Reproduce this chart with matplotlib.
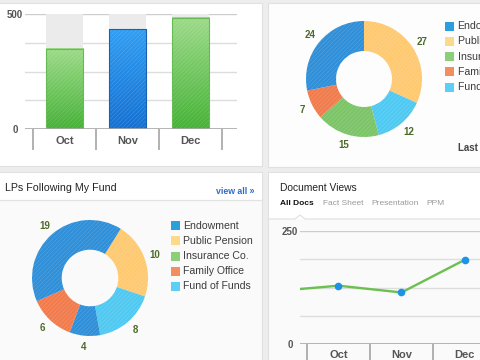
import numpy as np
import matplotlib.pyplot as plt
from matplotlib.patches import Rectangle
from matplotlib.colors import LinearSegmentedColormap

plt.rcParams['font.family'] = ['Liberation Sans', 'DejaVu Sans']
plt.rcParams['hatch.linewidth'] = 0.5

W, H = 480, 360

# ---- data ----
bar_months = ['Oct', 'Nov', 'Dec']
bar_values = [348, 433, 484]
bar_cap = 500
bar_ticks = [0, 125, 250, 375, 500]

lp_types = ['Endowment', 'Public Pension', 'Insurance Co.', 'Family Office', 'Fund of Funds']
legend_colors = ['#2a9fdb', '#fcd98b', '#8ccf7b', '#f38f5f', '#5dcff5']
slice_colors = {'Endowment': '#2f8fd8', 'Public Pension': '#fec970',
                'Insurance Co.': '#7cc468', 'Family Office': '#f27b4c',
                'Fund of Funds': '#4fc9f2'}

# top right donut, clockwise from 12 o'clock
top_slices = ['Public Pension', 'Fund of Funds', 'Insurance Co.', 'Family Office', 'Endowment']
top_values = [27, 12, 15, 7, 24]

# LPs following my fund, clockwise
lp_slices = ['Public Pension', 'Fund of Funds', 'Endowment', 'Family Office', 'Endowment']
lp_values = [10, 8, 4, 6, 19]

doc_months = ['Sep', 'Oct', 'Nov', 'Dec']
doc_views = [117, 129, 114, 186]
doc_ticks = [0, 62.5, 125, 187.5, 250]
doc_tabs = ['All Docs', 'Fact Sheet', 'Presentation', 'PPM']


def rect(x0, y0, x1, y1):
    return [x0 / W, 1 - y1 / H, (x1 - x0) / W, (y1 - y0) / H]


fig = plt.figure(figsize=(4.8, 3.6), dpi=100, facecolor='#ededed')

# background panels
bg = fig.add_axes([0, 0, 1, 1], zorder=-5)
bg.set_xlim(0, W)
bg.set_ylim(H, 0)
bg.axis('off')
for x0, y0, x1, y1, fc in [(-2, 3, 262, 166, '#ffffff'), (268, 3, 484, 167, '#fdfdfd'),
                           (-2, 172, 262, 364, '#fafafa'), (268, 172, 484, 364, '#fafafa')]:
    bg.add_patch(Rectangle((x0, y0), x1 - x0, y1 - y0, fc=fc, ec='#e0e0e0', lw=0.8))
# headers of the lower panels
bg.add_patch(Rectangle((-1, 172.5), 262.5, 27.5, fc='#ffffff', lw=0))
bg.add_patch(Rectangle((268.5, 172.5), 215, 46, fc='#ffffff', lw=0))
bg.plot([-2, 262], [200, 200], color='#e2e2e2', lw=0.9)
bg.plot([268, 295, 300, 305, 484], [219, 219, 215, 219, 219], color='#e2e2e2', lw=0.9)

# ---- monthly bars (top left) ----
axb = fig.add_axes(rect(25, 14, 237, 129))
axb.set_facecolor('none')
for s in axb.spines.values():
    s.set_visible(False)
xb = np.arange(len(bar_months))
bw = 0.59
for t in bar_ticks[1:]:
    axb.axhline(t, color='#cccccc' if t == bar_cap else '#dddddd', lw=1, zorder=0)
axb.bar(xb, [bar_cap] * len(xb), width=bw, color='#ebebeb', zorder=1)
grad = np.linspace(0, 1, 64).reshape(-1, 1)
green = LinearSegmentedColormap.from_list('g', ['#45b236', '#9cda88'])
blue = LinearSegmentedColormap.from_list('b', ['#1470d2', '#2f9ef3'])
edges = []
for i, v in enumerate(bar_values):
    cm = blue if bar_months[i] == 'Nov' else green
    edges.append('#1b5fb0' if bar_months[i] == 'Nov' else '#66bb55')
    axb.imshow(grad, extent=[i - bw / 2, i + bw / 2, 0, v], origin='lower',
               cmap=cm, aspect='auto', zorder=2)
axb.bar(xb, bar_values, width=bw, facecolor='none', edgecolor=(1, 1, 1, 0.16),
        hatch='////////', lw=0, zorder=3)
axb.bar(xb, bar_values, width=bw, facecolor='none', edgecolor=edges, lw=0.8, zorder=4)
axb.set_yticks(bar_ticks, [str(t) if t in (0, bar_cap) else '' for t in bar_ticks])
axb.set_xticks(xb, bar_months)
axb.set_xlim(-0.627, 2.738)
axb.set_ylim(0, bar_cap)
axb.axhline(0, color='#a8a8a8', lw=1.2, zorder=5)
axb.vlines(np.arange(len(xb) + 1) - 0.5, -92, 0, colors='#a4a4a4', lw=1.2, clip_on=False)
axb.tick_params(axis='y', length=0, pad=7.2, labelsize=7, labelcolor='#555555')
axb.tick_params(axis='x', length=0, pad=5, labelsize=8, labelcolor='#555555')
for lab in axb.get_yticklabels():
    lab.set_ha('center')
    lab.set_fontweight('bold')
for lab in axb.get_xticklabels():
    lab.set_fontweight('bold')


# ---- donuts ----
def donut(box, values, names, start, width):
    ax = fig.add_axes(rect(*box))
    ax.set_facecolor('none')
    wedges, texts = ax.pie(values, labels=[str(v) for v in values], radius=58,
                           startangle=start, counterclock=False,
                           colors=[slice_colors[n] for n in names],
                           labeldistance=69 / 58,
                           wedgeprops=dict(width=width, lw=0),
                           textprops=dict(fontsize=7, fontweight='bold',
                                          color='#4a6a2a', ha='center', va='center'))
    for w in wedges:
        w.set_edgecolor((1, 1, 1, 0.16))
        w.set_hatch('////////')
    ax.set_xlim(-70, 70)
    ax.set_ylim(-70, 70)
    ax.set_aspect('equal')
    ax.axis('off')
    return ax


donut((294, 9, 434, 149), top_values, top_slices, 90, 30)
donut((20, 208, 160, 348), lp_values, lp_slices, 58, 29.7)

# ---- document views line (bottom right) ----
axl = fig.add_axes(rect(300, 231, 480, 344))
axl.set_facecolor('none')
for s in axl.spines.values():
    s.set_visible(False)
xl = np.arange(len(doc_months)) - 1
for t in doc_ticks[1:]:
    axl.axhline(t, color='#cccccc' if t == doc_ticks[-1] else '#dddddd', lw=1, zorder=0)
axl.axhline(0, color='#a8a8a8', lw=1.2, zorder=1)
axl.vlines(xl + 0.5, -45, 0, colors='#a4a4a4', lw=1.2, clip_on=False)
axl.plot(xl, doc_views, color='#6cc04f', lw=1.7, zorder=3)
axl.plot(xl, doc_views, 'o', color='#1d93e6', ms=5.5, mec='none', zorder=4)
axl.set_yticks(doc_ticks, [str(int(t)) if t in (0, doc_ticks[-1]) else '' for t in doc_ticks])
axl.set_xticks(xl, doc_months)
axl.set_xlim(-0.611, 2.246)
axl.set_ylim(0, doc_ticks[-1])
axl.tick_params(axis='y', length=0, pad=7.2, labelsize=7, labelcolor='#555555')
axl.tick_params(axis='x', length=0, pad=4.3, labelsize=8, labelcolor='#555555')
for lab in axl.get_yticklabels():
    lab.set_ha('center')
    lab.set_fontweight('bold')
for lab in axl.get_xticklabels():
    lab.set_fontweight('bold')

# ---- texts and legends ----
ov = fig.add_axes([0, 0, 1, 1], zorder=10)
ov.set_xlim(0, W)
ov.set_ylim(H, 0)
ov.axis('off')
ov.patch.set_visible(False)

ov.text(5, 188, 'LPs Following My Fund', fontsize=7.7, color='#222222', va='center')
ov.text(254, 191, 'view all \u00bb', fontsize=6.3, fontweight='bold', color='#2f6bc6',
        ha='right', va='center')
ov.text(280, 188, 'Document Views', fontsize=7.4, color='#222222', va='center')
for lab, x in zip(doc_tabs, [280, 323, 371, 426]):
    ov.text(x, 203.5, lab, fontsize=6, va='center',
            fontweight='bold' if lab == 'All Docs' else 'normal',
            color='#111111' if lab == 'All Docs' else '#9a9a9a')

for i, (name, col) in enumerate(zip(lp_types, legend_colors)):
    y = 225.7 + i * 15.15
    ov.add_patch(Rectangle((171, y - 4.5), 9, 9, fc=col, ec='none'))
    ov.text(183.3, y, name, fontsize=7.6, color='#3c3c3c', va='center')
    y = 26 + i * 15.3
    ov.add_patch(Rectangle((445, y - 4.5), 9, 9, fc=col, ec='none'))
    ov.text(457.5, y, name, fontsize=7.6, color='#3c3c3c', va='center', clip_on=True)
ov.text(457.7, 148, 'Last 30 Days', fontsize=7, fontweight='bold', color='#444444',
        va='center', clip_on=True)

fig.savefig('out.png', dpi=100, facecolor=fig.get_facecolor())
